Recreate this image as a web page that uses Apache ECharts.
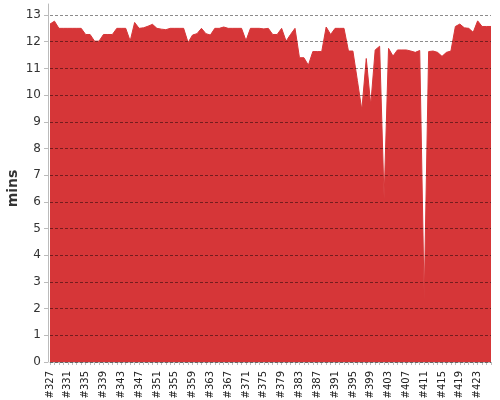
<!DOCTYPE html>
<html>
<head>
<meta charset="utf-8">
<script src="https://cdn.jsdelivr.net/npm/echarts@6/dist/echarts.min.js"></script>
<style>html,body{margin:0;padding:0;background:#fff}#c{width:500px;height:400px}</style>
</head>
<body>
<div id="c"></div>
<script>
const firstId = 327;
const values = [
12.66,12.77,12.5,12.5,12.5,12.5,12.5,12.5,12.27,12.27,
12.02,12.02,12.27,12.27,12.27,12.5,12.5,12.5,12.03,12.72,
12.5,12.52,12.58,12.65,12.5,12.47,12.45,12.5,12.5,12.5,
12.5,11.97,12.25,12.3,12.5,12.3,12.25,12.5,12.5,12.55,
12.5,12.5,12.5,12.5,12.04,12.5,12.5,12.5,12.48,12.5,
12.27,12.27,12.5,12.02,12.27,12.5,11.4,11.4,11.12,11.63,
11.63,11.63,12.55,12.27,12.5,12.5,12.5,11.65,11.65,10.55,
9.44,11.37,9.63,11.69,11.83,6.1,11.75,11.46,11.69,11.69,
11.69,11.65,11.6,11.67,2.3,11.63,11.65,11.6,11.45,11.6,
11.65,12.57,12.66,12.52,12.5,12.35,12.78,12.57,12.57,12.57
];
const categories = values.map((v, i) => '#' + (firstId + i));
const yTicks = [0,1,2,3,4,5,6,7,8,9,10,11,12,13];

const chart = echarts.init(document.getElementById('c'), null, {renderer: 'canvas'});
const font = 'DejaVu Sans';
chart.setOption({
  animation: false,
  backgroundColor: '#fff',
  grid: [
    {left: 50, right: 9, top: 15, bottom: 38, containLabel: false, outerBoundsMode: 'none'},
    {left: 50, right: 9, top: 4, bottom: 38, containLabel: false, outerBoundsMode: 'none'}
  ],
  xAxis: [{
    type: 'category',
    gridIndex: 0,
    data: categories,
    boundaryGap: false,
    offset: 3,
    axisLine: {lineStyle: {color: '#bbb', width: 1}},
    axisTick: {show: true, interval: 0, length: 3, lineStyle: {color: '#bbb'}},
    axisLabel: {interval: 3, rotate: 90, fontFamily: font, fontSize: 10, color: '#222', margin: 6}
  }, {
    type: 'category', gridIndex: 1, data: categories, show: false
  }],
  yAxis: [{
    type: 'value',
    gridIndex: 0,
    min: yTicks[0],
    max: yTicks[yTicks.length - 1],
    interval: 1,
    offset: 2,
    z: 5,
    name: 'mins',
    nameLocation: 'middle',
    nameGap: 28,
    nameMoveOverlap: false,
    nameTextStyle: {fontFamily: font, fontSize: 14, fontWeight: 'bold', color: '#333'},
    axisLine: {show: false},
    axisTick: {show: true, length: 4, lineStyle: {color: '#bbb'}},
    axisLabel: {fontFamily: font, fontSize: 12, color: '#333', margin: 7},
    splitLine: {show: true, lineStyle: {color: 'rgba(0,0,0,0.45)', type: [3, 2], width: 1}}
  }, {
    type: 'value', gridIndex: 1, min: 0, max: 1, offset: 2,
    axisLine: {show: true, lineStyle: {color: '#bbb', width: 1}},
    axisTick: {show: false}, axisLabel: {show: false}, splitLine: {show: false}
  }],
  series: [{
    type: 'line',
    xAxisIndex: 0,
    yAxisIndex: 0,
    data: values,
    showSymbol: false,
    symbol: 'none',
    lineStyle: {color: '#d63638', width: 1},
    areaStyle: {color: '#d63638', opacity: 1},
    itemStyle: {color: '#d63638'}
  }]
});
</script>
</body>
</html>
